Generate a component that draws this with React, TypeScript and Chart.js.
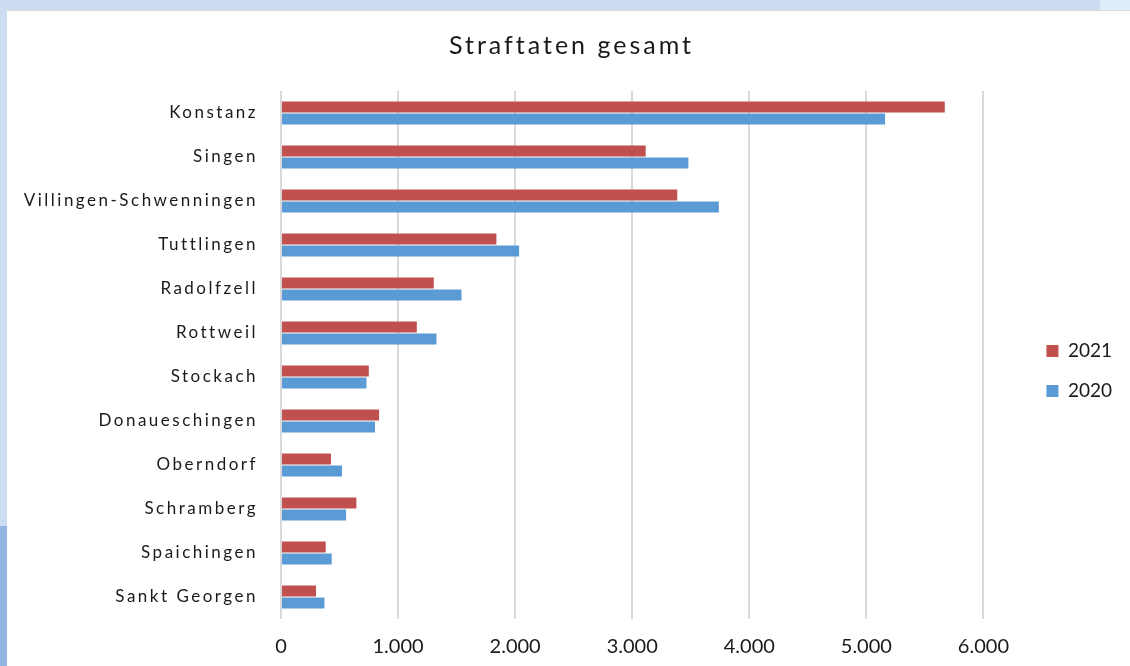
import React, { useEffect, useRef } from "react";
import { Chart, registerables } from "chart.js";

Chart.register(...registerables);

const categories = [
  "Konstanz",
  "Singen",
  "Villingen-Schwenningen",
  "Tuttlingen",
  "Radolfzell",
  "Rottweil",
  "Stockach",
  "Donaueschingen",
  "Oberndorf",
  "Schramberg",
  "Spaichingen",
  "Sankt Georgen",
];
const values2021 = [5670, 3115, 3385, 1840, 1305, 1160, 750, 838, 427, 644, 382, 299];
const values2020 = [5160, 3480, 3740, 2034, 1542, 1328, 730, 803, 521, 556, 433, 371];
const seriesLabels = ["2021", "2020"];
const xTicks = [0, 1000, 2000, 3000, 4000, 5000, 6000];
const chartTitle = "Straftaten gesamt";

const FONT = "Lato, 'Open Sans', sans-serif";
const LEGEND_EXTRA = 42;
const TITLE_SHIFT = 7;

function formatDe(v: number): string {
  const s = Math.round(v).toString();
  return s.replace(/\B(?=(\d{3})+(?!\d))/g, ".");
}

const spacingPlugin = {
  id: "spacingPlugin",
  beforeLayout(chart: any) {
    const lg = chart.legend;
    if (lg && !lg.__wrapped) {
      const origFit = lg.fit.bind(lg);
      lg.fit = () => {
        origFit();
        lg.width += LEGEND_EXTRA;
      };
      const origDraw = lg.draw.bind(lg);
      lg.draw = () => {
        const ctx = chart.ctx;
        ctx.save();
        ctx.translate(LEGEND_EXTRA, 0);
        origDraw();
        ctx.restore();
      };
      lg.__wrapped = true;
    }
    const tb = chart.titleBlock;
    if (tb && !tb.__wrapped) {
      const origDraw = tb.draw.bind(tb);
      tb.draw = () => {
        const ctx = chart.ctx;
        ctx.save();
        ctx.translate(TITLE_SHIFT, 0);
        (ctx as any).letterSpacing = "3px";
        origDraw();
        ctx.restore();
      };
      tb.__wrapped = true;
    }
  },
  beforeDraw(chart: any) {
    const y = chart.scales.y;
    if (y && !y.__wrapped) {
      const origLabels = y.drawLabels.bind(y);
      y.drawLabels = (area: any) => {
        const ctx = chart.ctx;
        ctx.save();
        (ctx as any).letterSpacing = "2.5px";
        origLabels(area);
        ctx.restore();
      };
      y.__wrapped = true;
    }
  },
};

export default function App() {
  const ref = useRef<HTMLCanvasElement | null>(null);

  useEffect(() => {
    if (!ref.current) return;
    const chart = new Chart(ref.current, {
      type: "bar",
      data: {
        labels: categories,
        datasets: [
          {
            label: seriesLabels[0],
            data: values2021,
            backgroundColor: "#c0504d",
            borderWidth: 0,
            categoryPercentage: 0.55,
            barPercentage: 0.9,
          },
          {
            label: seriesLabels[1],
            data: values2020,
            backgroundColor: "#5b9bd5",
            borderWidth: 0,
            categoryPercentage: 0.55,
            barPercentage: 0.9,
          },
        ],
      },
      plugins: [spacingPlugin],
      options: {
        indexAxis: "y",
        animation: false,
        responsive: false,
        maintainAspectRatio: false,
        layout: { padding: { left: 0, right: 8, top: 0, bottom: 0 } },
        plugins: {
          title: {
            display: true,
            text: chartTitle,
            color: "#1a1a1a",
            font: { family: FONT, size: 25, weight: "normal" },
            padding: { top: 20, bottom: 30 },
          },
          legend: {
            display: true,
            position: "right",
            align: "center",
            title: {
              display: true,
              text: "",
              font: { size: 10 },
              padding: { top: 44, bottom: 0 },
            },
            labels: {
              boxWidth: 12,
              boxHeight: 12,
              padding: 21,
              color: "#1a1a1a",
              font: { family: FONT, size: 19 },
            },
          },
          tooltip: { enabled: false },
        },
        scales: {
          x: {
            min: 0,
            max: 6000,
            afterBuildTicks: (scale: any) => {
              scale.ticks = xTicks.map((v) => ({ value: v }));
            },
            grid: { color: "#d9d9d9", lineWidth: 2, drawTicks: false },
            border: { display: false },
            ticks: {
              padding: 16,
              color: "#1a1a1a",
              font: { family: FONT, size: 20 },
              callback: (v: any) => formatDe(Number(v)),
            },
          },
          y: {
            grid: { display: false },
            border: { display: false },
            ticks: {
              padding: 15,
              color: "#1a1a1a",
              font: { family: FONT, size: 17 },
            },
            afterFit: (scale: any) => {
              scale.width = 274;
            },
          },
        },
      },
    });
    return () => chart.destroy();
  }, []);

  return (
    <div
      style={{
        position: "fixed",
        left: 0,
        top: 0,
        width: 1130,
        height: 666,
        background: "#cddcf0",
        overflow: "hidden",
      }}
    >
      <div
        style={{
          position: "absolute",
          left: 1100,
          top: 0,
          width: 30,
          height: 10,
          background: "#dfeef9",
        }}
      />
      <div
        style={{
          position: "absolute",
          left: 0,
          top: 526,
          width: 7,
          height: 140,
          background: "#93b5e2",
        }}
      />
      <div
        style={{
          position: "absolute",
          left: 7,
          top: 10,
          width: 1123,
          height: 656,
          background: "#ffffff",
          borderTop: "1px solid #d8d8d8",
          boxSizing: "border-box",
          overflow: "hidden",
        }}
      >
        <canvas ref={ref} width={1123} height={664} style={{ display: "block" }} />
      </div>
    </div>
  );
}
